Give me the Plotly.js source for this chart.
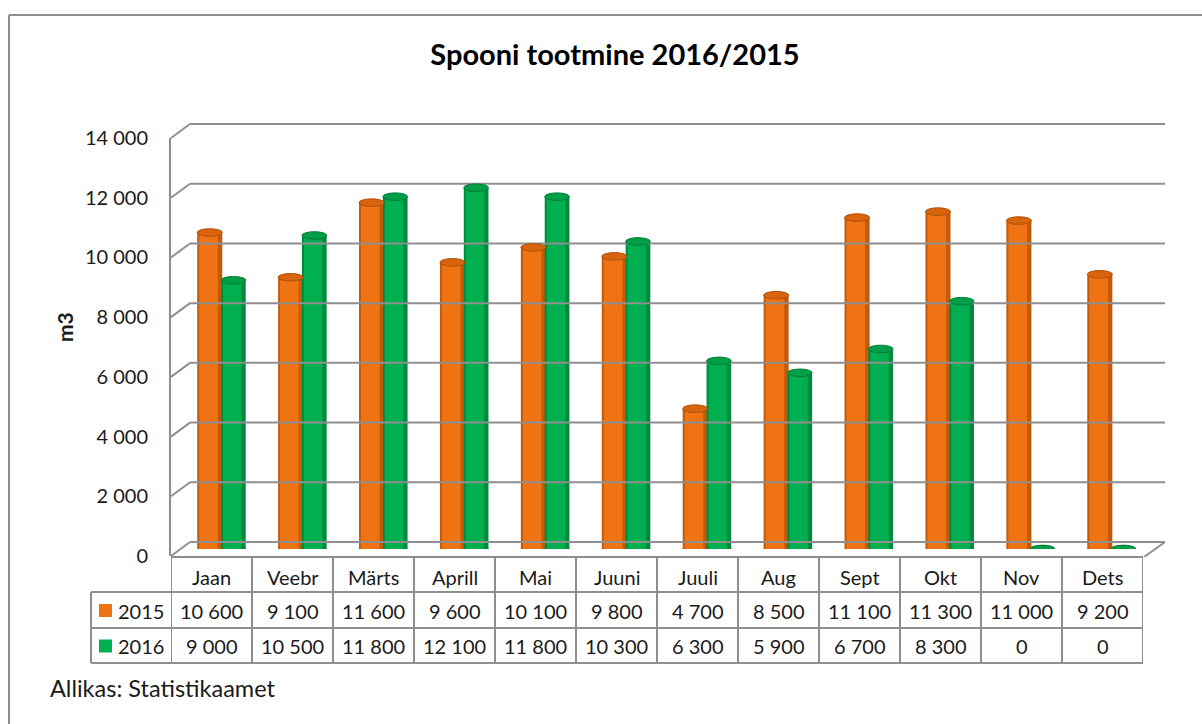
<!DOCTYPE html>
<html>
<head>
<meta charset="utf-8">
<script src="https://cdn.plot.ly/plotly-3.0.1.min.js"></script>
<style>html,body{margin:0;padding:0;background:#fff;}#chart{width:1202px;height:724px;}</style>
</head>
<body>
<div id="chart"></div>
<script>
// ---- data ----
const months = ['Jaan','Veebr','Märts','Aprill','Mai','Juuni','Juuli','Aug','Sept','Okt','Nov','Dets'];
const seriesNames = ['2015','2016'];
const v2015 = [10600,9100,11600,9600,10100,9800,4700,8500,11100,11300,11000,9200];
const v2016 = [9000,10500,11800,12100,11800,10300,6300,5900,6700,8300,0,0];
const yTicks = [0,2000,4000,6000,8000,10000,12000,14000];
const titleText = 'Spooni tootmine 2016/2015';
const yTitle = 'm3';
const sourceText = 'Allikas: Statistikaamet';

// ---- geometry helpers (pixels -> paper) ----
const W = 1202, H = 724;
const px = x => x / W;
const py = y => 1 - y / H;
const FONT = 'Lato, "Open Sans", sans-serif';
const TXT = '#1a1a1a';
const GRID = '#8f8f8f';
const FS = 20;
const fmt = v => String(v).replace(/\B(?=(\d{3})+(?!\d))/g, ' ');

const idx = months.map((m, i) => i);
const C = {
  o: {dark:'#C25A0B', body:'#EF7312', top:'#D8640D', edge:'#B0510A'},
  g: {dark:'#008A3D', body:'#00B050', top:'#009E47', edge:'#007D36'}
};

const traces = [
  {type:'bar', x:idx, y:v2015, xaxis:'x', yaxis:'y3', offset:-0.30, width:0.31,
   marker:{color:C.o.dark, line:{width:0}}, hoverinfo:'skip', showlegend:false},
  {type:'bar', x:idx, y:v2015, xaxis:'x', yaxis:'y3', offset:-0.275, width:0.23,
   marker:{color:C.o.body, line:{width:0}}, hoverinfo:'skip', showlegend:false},
  {type:'bar', x:idx, y:v2016, xaxis:'x', yaxis:'y3', offset:-0.005, width:0.305,
   marker:{color:C.g.dark, line:{width:0}}, hoverinfo:'skip', showlegend:false},
  {type:'bar', x:idx, y:v2016, xaxis:'x', yaxis:'y3', offset:0.02, width:0.225,
   marker:{color:C.g.body, line:{width:0}}, hoverinfo:'skip', showlegend:false},
  // dummy traces to realise the grid / table subplots
  {type:'scatter', x:[], y:[], xaxis:'x2', yaxis:'y2', showlegend:false},
  {type:'scatter', x:[], y:[], xaxis:'x3', yaxis:'y', showlegend:false}
];

const shapes = [];
const annotations = [];

// outer chart border (top + left)
shapes.push({type:'line', xref:'paper', yref:'paper', x0:px(9), x1:1, y0:py(15), y1:py(15), line:{color:GRID, width:2}});
shapes.push({type:'line', xref:'paper', yref:'paper', x0:px(9), x1:px(9), y0:py(15), y1:0, line:{color:GRID, width:2}});

// back-wall gridlines + diagonal connectors to the front axis
yTicks.forEach(t => {
  shapes.push({type:'line', xref:'x2', yref:'y2', x0:0, x1:1, y0:t, y1:t,
    line:{color:GRID, width:2}, layer:'below'});
  shapes.push({type:'line', xref:'paper', yref:'y2', ysizemode:'pixel', yanchor:t,
    x0:px(190), x1:px(171), y0:0, y1:-14, line:{color:GRID, width:2}, layer:'below'});
});
// right floor diagonal
shapes.push({type:'line', xref:'paper', yref:'y2', ysizemode:'pixel', yanchor:0,
  x0:px(1165), x1:px(1144), y0:0, y1:-15, line:{color:GRID, width:2}, layer:'below'});

// cylinder bottoms and tops
const cyl = (vals, x0off, x1off, col) => {
  vals.forEach((v, i) => {
    shapes.push({type:'circle', xref:'x', yref:'y3', ysizemode:'pixel', yanchor:0,
      x0:i + x0off, x1:i + x1off, y0:-4, y1:4, fillcolor:col.dark, line:{width:0}, layer:'between'});
    shapes.push({type:'circle', xref:'x', yref:'y3', ysizemode:'pixel', yanchor:v,
      x0:i + x0off, x1:i + x1off, y0:-3.8, y1:3.8, fillcolor:col.top, line:{color:col.edge, width:1}, layer:'above'});
  });
};
cyl(v2015, -0.30, 0.01, C.o);
cyl(v2016, -0.005, 0.30, C.g);

// ---- data table ----
const rowsY = [557, 592, 628, 663];
shapes.push({type:'line', xref:'x3', yref:'paper', x0:-0.5, x1:11.5, y0:py(rowsY[0]), y1:py(rowsY[0]), line:{color:GRID, width:2}});
[1,2,3].forEach(r => {
  shapes.push({type:'line', xref:'paper', yref:'paper', x0:px(91), x1:px(1143), y0:py(rowsY[r]), y1:py(rowsY[r]), line:{color:GRID, width:2}});
});
for (let i = 0; i <= months.length; i++) {
  shapes.push({type:'line', xref:'x3', yref:'paper', x0:i - 0.5, x1:i - 0.5, y0:py(rowsY[0]), y1:py(rowsY[3]), line:{color:GRID, width:2}});
}
shapes.push({type:'line', xref:'paper', yref:'paper', x0:px(91), x1:px(91), y0:py(rowsY[1]), y1:py(rowsY[3]), line:{color:GRID, width:2}});

const rowC = [577, 610.5, 646];
months.forEach((m, i) => {
  annotations.push({xref:'x3', yref:'paper', x:i, y:py(rowC[0]), text:m, showarrow:false,
    xanchor:'center', yanchor:'middle', font:{family:FONT, size:FS, color:TXT}});
  annotations.push({xref:'x3', yref:'paper', x:i, y:py(rowC[1]), text:fmt(v2015[i]), showarrow:false,
    xanchor:'center', yanchor:'middle', font:{family:FONT, size:FS, color:TXT}});
  annotations.push({xref:'x3', yref:'paper', x:i, y:py(rowC[2]), text:fmt(v2016[i]), showarrow:false,
    xanchor:'center', yanchor:'middle', font:{family:FONT, size:FS, color:TXT}});
});
// legend keys in table
[[C.o.body, rowC[1], seriesNames[0]], [C.g.body, rowC[2], seriesNames[1]]].forEach(([col, yc, name]) => {
  shapes.push({type:'rect', xref:'paper', yref:'paper', x0:px(99), x1:px(112), y0:py(yc - 6.5), y1:py(yc + 6.5),
    fillcolor:col, line:{width:0}});
  annotations.push({xref:'paper', yref:'paper', x:px(116), y:py(yc), text:name, showarrow:false,
    xanchor:'left', yanchor:'middle', font:{family:FONT, size:FS, color:TXT}});
});

// y title and source
annotations.push({xref:'paper', yref:'paper', x:px(64), y:py(327), text:'<b>' + yTitle + '</b>', textangle:-90,
  showarrow:false, xanchor:'center', yanchor:'middle', font:{family:FONT, size:21, color:TXT}});
annotations.push({xref:'paper', yref:'paper', x:px(48), y:py(688), text:sourceText, showarrow:false,
  xanchor:'left', yanchor:'middle', font:{family:FONT, size:23.5, color:TXT}});

const hidden = {showgrid:false, zeroline:false, showline:false, showticklabels:false, ticks:'', fixedrange:true};

// back wall axis: 0 at y=542px, 14000 at y=124px; range padded so edge lines are not clipped
const pxPerUnit = (542 - 124) / 14000;
const pad = 500;

const layout = {
  width:W, height:H,
  margin:{l:0, r:0, t:0, b:0},
  paper_bgcolor:'#ffffff', plot_bgcolor:'rgba(0,0,0,0)',
  separators:', ',
  barmode:'overlay',
  showlegend:false,
  title:{text:'<b>' + titleText + '</b>', x:px(615), xanchor:'center', y:py(55), yanchor:'middle',
    font:{family:FONT, size:29, color:'#000'}},
  xaxis:Object.assign({}, hidden, {domain:[px(181), px(1152)], range:[-0.5, 11.5], anchor:'y3'}),
  yaxis3:Object.assign({}, hidden, {domain:[py(549), py(131)], range:[0, 14000], anchor:'x'}),
  xaxis2:Object.assign({}, hidden, {domain:[px(170), px(1167)], range:[-20/975, 1 + 2/975], anchor:'y2'}),
  yaxis2:Object.assign({}, hidden, {domain:[py(542 + pad * pxPerUnit), py(124 - pad * pxPerUnit)],
    range:[-pad, 14000 + pad], anchor:'x2'}),
  xaxis3:Object.assign({}, hidden, {domain:[px(171), px(1143)], range:[-0.5, 11.5], anchor:'y'}),
  yaxis:{domain:[py(556), py(138)], range:[0, 14000], anchor:'x3', side:'left',
    tickvals:yTicks, tickformat:',d', showgrid:false, zeroline:false,
    showline:true, linecolor:GRID, linewidth:2, ticks:'', ticklabelstandoff:17,
    tickfont:{family:FONT, size:FS, color:TXT}, fixedrange:true},
  shapes:shapes,
  annotations:annotations
};

Plotly.newPlot('chart', traces, layout, {displayModeBar:false, staticPlot:true});
</script>
</body>
</html>
